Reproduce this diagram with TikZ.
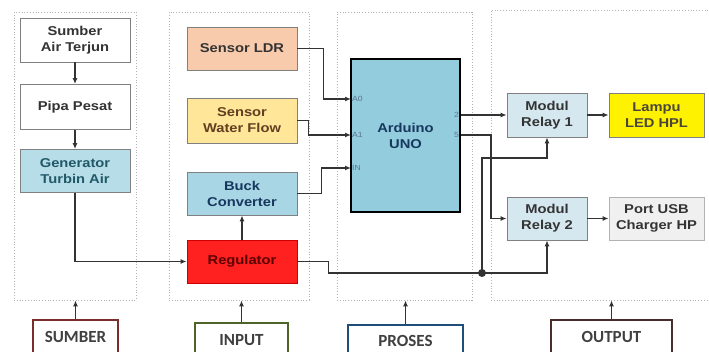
\documentclass[tikz,border=0pt]{standalone}
\usepackage{fontspec}
\setmainfont{Liberation Sans}[FakeStretch=1.15]
\newfontfamily\labelfont{Carlito}
\usetikzlibrary{arrows.meta,positioning,calc}
\definecolor{garisabu}{HTML}{333333}
\definecolor{tepiabu}{HTML}{808080}
\definecolor{biruGen}{HTML}{B7DDE8}
\definecolor{teksGen}{HTML}{215968}
\definecolor{oranyeLDR}{HTML}{F8CBAD}
\definecolor{kuningWF}{HTML}{FFE699}
\definecolor{biruBuck}{HTML}{A9D6E5}
\definecolor{merahReg}{HTML}{FF2020}
\definecolor{biruUno}{HTML}{93CDDD}
\definecolor{teksUno}{HTML}{17375E}
\definecolor{biruRelay}{HTML}{D5E8F0}
\definecolor{abuUSB}{HTML}{F0F0F0}
\definecolor{tepiSumber}{HTML}{7B2C2C}
\definecolor{tepiInput}{HTML}{4F6228}
\definecolor{tepiProses}{HTML}{1F4E79}
\definecolor{tepiOutput}{HTML}{4A2C2A}
\begin{document}
\begin{tikzpicture}[
    x=1pt, y=-1pt,
    font=\fontsize{12.8}{16}\selectfont\bfseries,
    grup/.style={
      rectangle, draw=gray!60, dotted, thick,
      inner sep=0pt
    },
    blok/.style={
      rectangle, draw=tepiabu, line width=0.8pt,
      minimum width=110, minimum height=44,
      align=center, inner sep=0pt, text=black!80
    },
    pin/.style={font=\fontsize{7.5}{8}\selectfont, text=teksUno!70, inner sep=1pt},
    label/.style={
      rectangle, line width=2.2pt, fill=white,
      minimum height=34, inner sep=0pt,
      font=\labelfont\fontsize{17}{20}\selectfont\bfseries, text=black!75
    },
    garis/.style={draw=garisabu, line width=1.3pt},
    panah/.style={garis, -{Latex[length=6pt,width=5pt]}},
  ]
    \useasboundingbox (0,0) rectangle (709,352);

    % kelompok
    \node[grup, minimum width=122, minimum height=288] (gS) at (75,156)    {};
    \node[grup, minimum width=140, minimum height=288] (gI) at (239,156)   {};
    \node[grup, minimum width=135, minimum height=288] (gP) at (404.5,156) {};
    \node[grup, minimum width=224, minimum height=290] (gO) at (603,155)   {};

    % sumber
    \node[blok, fill=white]                                  (sumber) at (75,40)  {Sumber\\Air Terjun};
    \node[blok, fill=white, minimum height=45]               (pipa)   at (75,107) {Pipa Pesat};
    \node[blok, fill=biruGen, text=teksGen, minimum height=43] (gen)  at (75,171) {Generator\\Turbin Air};

    % input
    \node[blok, fill=oranyeLDR, minimum height=43]           (ldr)  at (242,48.5)  {Sensor LDR};
    \node[blok, fill=kuningWF, text=brown!50!black, minimum height=45] (wf) at (242,120.5) {Sensor\\Water Flow};
    \node[blok, fill=biruBuck, text=teksUno, minimum height=43] (buck) at (242,193.5) {Buck\\Converter};
    \node[blok, fill=merahReg, draw=red!80!black, text=red!35!black, minimum height=43] (reg) at (242,261.5) {Regulator};

    % proses
    \node[blok, fill=biruUno, draw=black, line width=1.8pt, text=teksUno,
          minimum width=109, minimum height=153]             (uno)  at (405.5,135.5) {Arduino\\UNO};
    \node[pin, anchor=west] (pA0) at (351,99)  {A0};
    \node[pin, anchor=west] (pA1) at (351,135) {A1};
    \node[pin, anchor=west] (pIN) at (351,168) {IN};
    \node[pin, anchor=east] (p2)  at (460,115) {2};
    \node[pin, anchor=east] (p5)  at (460,135) {5};

    % output
    \node[blok, fill=biruRelay, minimum width=80]            (relA)  at (547,115)   {Modul\\Relay 1};
    \node[blok, fill=yellow, text=black!70!yellow!60!black, minimum width=95] (lampu) at (656.5,115) {Lampu\\LED HPL};
    \node[blok, fill=biruRelay, minimum width=80, minimum height=43] (relB) at (547,218.5) {Modul\\Relay 2};
    \node[blok, fill=abuUSB, draw=gray!60, minimum width=95, minimum height=43] (usb) at (656.5,218.5) {Port USB\\Charger HP};

    % label bawah
    \node[label, draw=tepiSumber, minimum width=85]  (lS) at (75.5,337)  {SUMBER};
    \node[label, draw=tepiInput,  minimum width=93]  (lI) at (241.5,340) {INPUT};
    \node[label, draw=tepiProses, minimum width=115, minimum height=32] (lP) at (405.5,341) {PROSES};
    \node[label, draw=tepiOutput, minimum width=121] (lO) at (611.5,337) {OUTPUT};

    \coordinate (tj) at (482,273);
    \coordinate (tk) at (482,158);

    % aliran sumber
    \draw[panah] (sumber.south) -- (pipa.north);
    \draw[panah] (pipa.south) -- (gen.north);
    \draw[panah] (gen.south) |- (reg.west);
    \draw[panah] (reg.north) -- (buck.south);

    % sensor ke arduino
    \draw[panah] (ldr.east) -- ++(26,0) |- (pA0.west);
    \draw[panah] (wf.east) -- ++(11,0) |- (pA1.west);
    \draw[panah] (buck.east) -- ++(24,0) |- (pIN.west);

    % daya ke relay
    \draw[garis] (reg.east) -- ++(31,0) |- (tj);
    \draw[panah] (tj) -| (relB.south);
    \draw[panah] (tj) -- (tk) -| (relA.south);
    \fill[garisabu] (tj) circle (4);

    % arduino ke relay
    \draw[panah] (uno.east |- p2) -- (relA.west);
    \draw[panah] (uno.east |- p5) -- ++(30,0) |- (relB.west);
    \draw[panah] (relA.east) -- (lampu.west);
    \draw[panah] (relB.east) -- (usb.west);

    % label ke kelompok
    \foreach \l/\g in {lS/gS,lI/gI,lP/gP,lO/gO}{
      \draw[panah] (\l.north) -- (\l.north |- \g.south);
    }
  \end{tikzpicture}
\end{document}
